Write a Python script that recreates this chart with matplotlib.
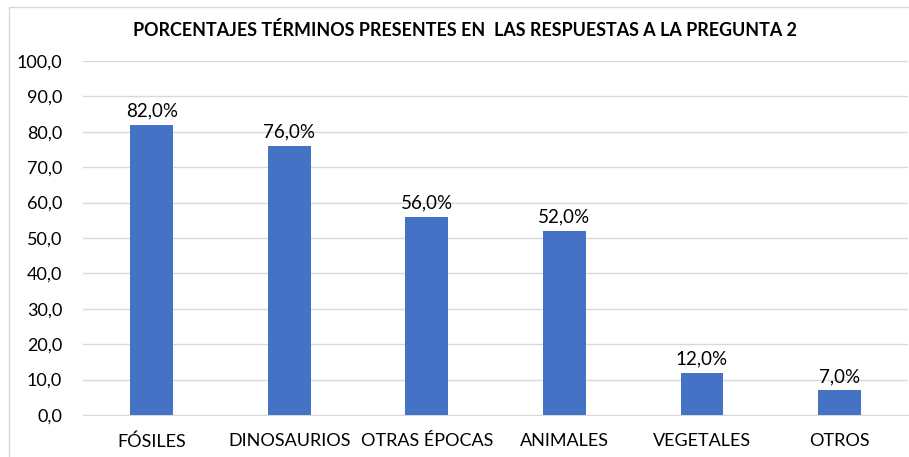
import matplotlib.pyplot as plt
from matplotlib.patches import Rectangle

categorias = ['FÓSILES', 'DINOSAURIOS', 'OTRAS ÉPOCAS', 'ANIMALES', 'VEGETALES', 'OTROS']
porcentajes = [82.0, 76.0, 56.0, 52.0, 12.0, 7.0]
ticks_y = [0, 10, 20, 30, 40, 50, 60, 70, 80, 90, 100]

plt.rcParams['font.family'] = ['Lato', 'DejaVu Sans']

fig = plt.figure(figsize=(9.09, 4.57), dpi=100)
ax = fig.add_axes([0.0913, 0.0919, 0.9077, 0.7746])

x = range(len(categorias))
ax.bar(x, porcentajes, width=0.31, color='#4472C4', zorder=3)
for xi, v in zip(x, porcentajes):
    ax.text(xi, v + 1.5, f'{v:.1f}%'.replace('.', ','), ha='center', va='bottom',
            fontsize=13.5, color='#000000')

ax.set_xlim(-0.5, len(categorias) - 0.5)
ax.set_ylim(0, 100)
ax.set_yticks(ticks_y)
ax.set_yticklabels([f'{t:.1f}'.replace('.', ',') for t in ticks_y], fontsize=13)
ax.set_xticks(list(x))
ax.set_xticklabels(categorias, fontsize=13)
ax.tick_params(axis='both', length=0)
ax.tick_params(axis='y', pad=15)
ax.tick_params(axis='x', pad=13)
ax.grid(axis='y', color='#D9D9D9', linewidth=1, zorder=0)
for s in ['top', 'right', 'left']:
    ax.spines[s].set_visible(False)
ax.spines['bottom'].set_color('#D9D9D9')

fig.text(465 / 909, 0.935, 'PORCENTAJES TÉRMINOS PRESENTES EN  LAS RESPUESTAS A LA PREGUNTA 2',
         ha='center', va='center', fontsize=12.9, fontweight='bold')

fig.patches.append(Rectangle((9 / 909, -0.05), 1.1, 1 - 7 / 457 + 0.05,
                             transform=fig.transFigure, fill=False,
                             edgecolor='#D9D9D9', linewidth=1))

fig.savefig('out.png', dpi=100)
